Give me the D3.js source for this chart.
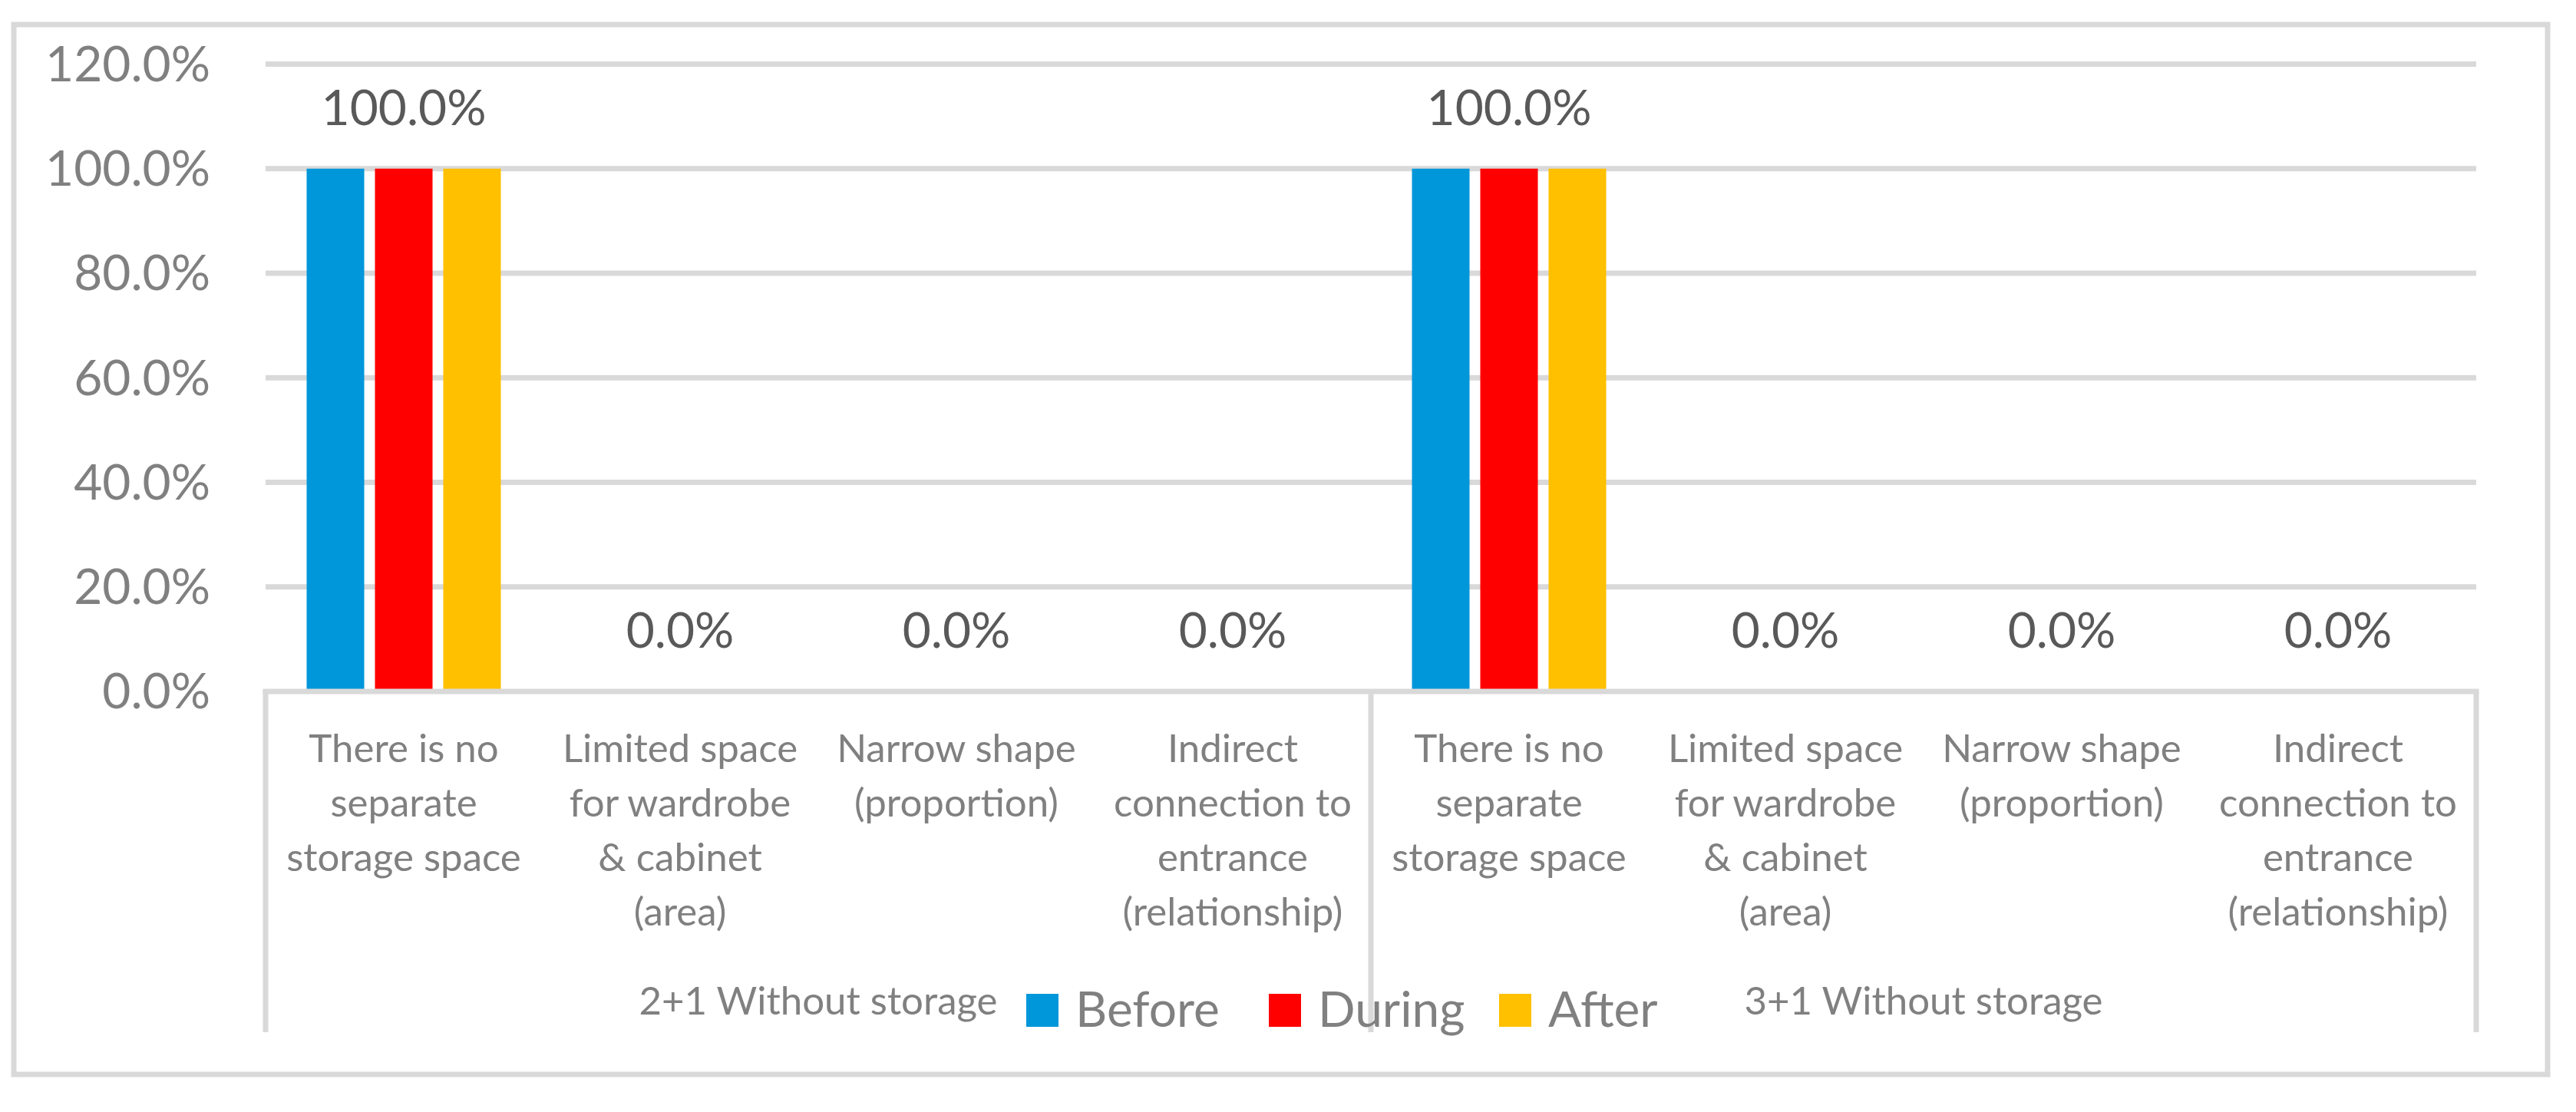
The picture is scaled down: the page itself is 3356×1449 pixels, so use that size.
<!DOCTYPE html>
<html>
<head>
<meta charset="utf-8">
<script src="https://cdn.jsdelivr.net/npm/d3@7"></script>
<style>
  body { margin: 0; background: #fff; }
  svg { display: block; }
</style>
</head>
<body>
<div id="chart"></div>
<script>
// data
const groups = ["2+1 Without storage", "3+1 Without storage"];
const categoryLines = [
  ["There is no", "separate", "storage space"],
  ["Limited space", "for wardrobe", "& cabinet", "(area)"],
  ["Narrow shape", "(proportion)"],
  ["Indirect", "connection to", "entrance", "(relationship)"]
];
const seriesNames = ["Before", "During", "After"];
const before = [1, 0, 0, 0, 1, 0, 0, 0];
const during = [1, 0, 0, 0, 1, 0, 0, 0];
const after  = [1, 0, 0, 0, 1, 0, 0, 0];
const yTicks = [0, 0.2, 0.4, 0.6, 0.8, 1.0, 1.2];

function init() {
  const width = 3356, height = 1449;
  const colors = ["#0097DA", "#FF0000", "#FFC000"];
  const grey = "#D9D9D9";
  const font = "Lato, 'Open Sans', sans-serif";

  // one row per category, the two groups side by side
  const rows = [];
  groups.forEach(function(g, gi) {
    categoryLines.forEach(function(lines, ci) {
      const i = gi * categoryLines.length + ci;
      rows.push({ key: i, group: g, lines: lines, values: [before[i], during[i], after[i]] });
    });
  });

  const svg = d3.select("#chart").append("svg")
    .attr("width", width)
    .attr("height", height);

  svg.append("rect")
    .attr("width", width).attr("height", height)
    .attr("fill", "#fff");

  // outer frame
  svg.append("rect")
    .attr("x", 18).attr("y", 32)
    .attr("width", 3301).attr("height", 1368)
    .attr("fill", "none")
    .attr("stroke", grey)
    .attr("stroke-width", 7);

  const left = 346, right = 3226, top = 83.5, bottom = 901;

  const x = d3.scaleBand()
    .domain(rows.map(d => d.key))
    .range([left, right])
    .padding(0);

  const cluster = 253;
  const xs = d3.scaleBand()
    .domain(seriesNames)
    .range([0, cluster])
    .paddingInner(0.157);

  const y = d3.scaleLinear()
    .domain([0, 1.2])
    .range([bottom, top]);

  // gridlines
  svg.append("g")
    .selectAll("line")
    .data(yTicks.filter(v => v > 0))
    .enter().append("line")
    .attr("x1", left).attr("x2", right)
    .attr("y1", d => y(d)).attr("y2", d => y(d))
    .attr("stroke", grey)
    .attr("stroke-width", 7);

  // y axis labels
  const yAxis = svg.append("g")
    .attr("transform", "translate(" + left + ",0)")
    .call(d3.axisLeft(y).tickValues(yTicks).tickFormat(d3.format(".1%")).tickSize(0).tickPadding(72));
  yAxis.select(".domain").remove();
  yAxis.selectAll("text")
    .attr("dy", "0.34em")
    .attr("fill", "#808080")
    .style("font-family", font)
    .style("font-size", "64px");

  // bars
  const offset = (x.bandwidth() - cluster) / 2;
  const cat = svg.append("g")
    .selectAll("g")
    .data(rows)
    .enter().append("g")
    .attr("transform", d => "translate(" + (x(d.key) + offset) + ",0)");

  cat.selectAll("rect")
    .data(d => d.values.map((v, i) => ({ name: seriesNames[i], value: v, i: i })))
    .enter().append("rect")
    .attr("x", d => xs(d.name))
    .attr("width", xs.bandwidth())
    .attr("y", d => y(d.value))
    .attr("height", d => bottom - y(d.value))
    .attr("fill", d => colors[d.i]);

  // data labels (middle series)
  svg.append("g")
    .selectAll("text")
    .data(rows)
    .enter().append("text")
    .attr("x", d => x(d.key) + offset + xs("During") + xs.bandwidth() / 2)
    .attr("y", d => y(d.values[1]) - 57)
    .attr("text-anchor", "middle")
    .attr("fill", "#595959")
    .style("font-family", font)
    .style("font-size", "64px")
    .text(d => d3.format(".1%")(d.values[1]));

  // category axis lines
  svg.append("line")
    .attr("x1", left - 3.5).attr("x2", right + 3.5)
    .attr("y1", bottom).attr("y2", bottom)
    .attr("stroke", grey).attr("stroke-width", 7);

  const groupEdges = [0, 4, 8].map(i => left + i * x.step());
  svg.append("g")
    .selectAll("line")
    .data(groupEdges)
    .enter().append("line")
    .attr("x1", d => d).attr("x2", d => d)
    .attr("y1", bottom).attr("y2", 1345)
    .attr("stroke", grey).attr("stroke-width", 7);

  // category labels
  const catText = svg.append("g")
    .selectAll("text")
    .data(rows)
    .enter().append("text")
    .attr("text-anchor", "middle")
    .attr("fill", "#808080")
    .style("font-family", font)
    .style("font-size", "51px");

  catText.selectAll("tspan")
    .data(d => d.lines.map(l => ({ text: l, cx: x(d.key) + x.bandwidth() / 2 })))
    .enter().append("tspan")
    .attr("x", d => d.cx)
    .attr("y", (d, i) => 993 + i * 71)
    .text(d => d.text);

  // group labels
  svg.append("g")
    .selectAll("text")
    .data(groups)
    .enter().append("text")
    .attr("x", (d, i) => (groupEdges[i] + groupEdges[i + 1]) / 2)
    .attr("y", 1322)
    .attr("text-anchor", "middle")
    .attr("fill", "#808080")
    .style("font-family", font)
    .style("font-size", "51px")
    .text(d => d);

  // legend
  const legendX = [1337, 1653, 1953];
  const legend = svg.append("g")
    .selectAll("g")
    .data(seriesNames)
    .enter().append("g")
    .attr("transform", (d, i) => "translate(" + legendX[i] + ",1295)");

  legend.append("rect")
    .attr("width", 42).attr("height", 43)
    .attr("fill", (d, i) => colors[i]);

  legend.append("text")
    .attr("x", 64)
    .attr("y", 43)
    .attr("fill", "#808080")
    .style("font-family", font)
    .style("font-size", "64px")
    .text(d => d);
}
init();
</script>
</body>
</html>
